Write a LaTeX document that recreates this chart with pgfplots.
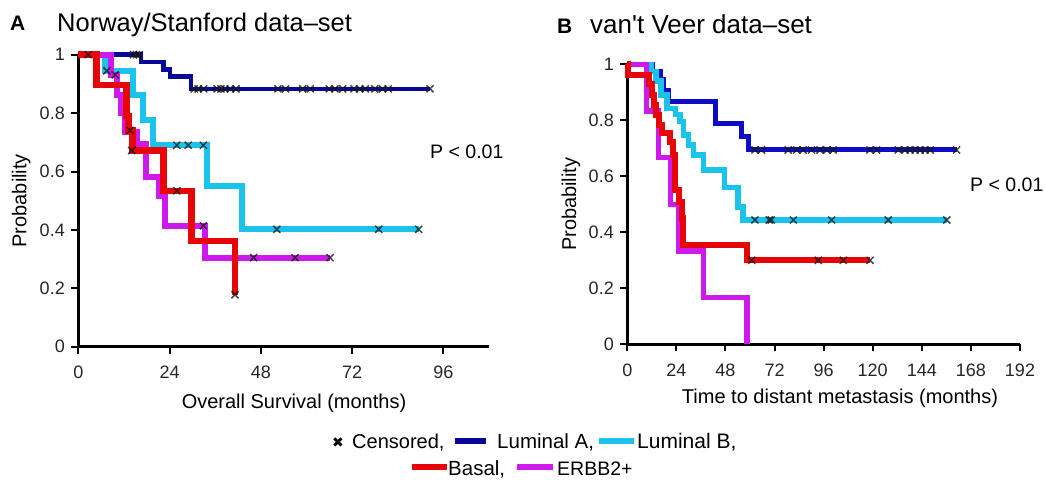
\documentclass[border=0pt]{standalone}
\usepackage{fontspec}
\setmainfont{Liberation Sans}
\newfontfamily\symfont{DejaVu Sans}
\usepackage{pgfplots}
\pgfplotsset{compat=1.18}

\definecolor{lumAa}{RGB}{8,8,150}
\definecolor{lumAb}{RGB}{12,12,200}
\definecolor{lumB}{RGB}{25,195,235}
\definecolor{basal}{RGB}{232,5,5}
\definecolor{erbb}{RGB}{205,25,235}
\newcommand{\fs}[1]{\fontsize{#1}{#1}\selectfont}

\pgfplotsset{
  km/.style={
    scale only axis, anchor=south west, clip=false,
    axis lines*=left,
    ymin=0, ymax=1, ytick={0,0.2,0.4,0.6,0.8,1},
    tick align=outside, major tick length=7pt,
    axis line style={line width=2.5pt, black},
    major tick style={line width=2pt, black},
    tick label style={font=\fs{18}, text=black!85},
    xticklabel style={yshift=-9pt},
    yticklabel style={xshift=-3pt},
    /pgf/number format/assume math mode=true,
  },
  cens/.style={only marks, mark=x, mark size=5pt, draw=black!90,
    mark options={line width=1.5pt, opacity=0.8}},
}

\begin{document}
\begin{tikzpicture}
\path[use as bounding box] (0pt,0pt) rectangle (1045pt,-485pt);

% ---- A: Norway/Stanford
\begin{axis}[km, at={(78.3pt,-346.7pt)}, width=410.7pt, height=292pt,
  xmin=0, xmax=108, xtick={0,24,48,72,96}]
\addplot[const plot, lumAa, line width=4.5pt] coordinates {
  (0,1) (16.5,0.975) (22.4,0.95) (24.1,0.925) (29.6,0.883) (92.5,0.883)};
\addplot[const plot, lumB, line width=6pt] coordinates {
  (0,1) (7,0.945) (14.5,0.862) (16.9,0.776) (19.7,0.69) (33.9,0.552) (43.1,0.402) (89.5,0.402)};
\addplot[const plot, erbb, line width=6pt] coordinates {
  (0,1) (8.5,0.931) (10.2,0.862) (11.2,0.80) (12.3,0.736) (15.4,0.695) (17.8,0.58)
  (21.1,0.517) (22.8,0.414) (33.3,0.305) (66.2,0.305)};
\addplot[const plot, basal, line width=6.5pt] coordinates {
  (0,1) (4.8,0.897) (12.7,0.79) (13.2,0.741) (14.2,0.672) (22.4,0.534) (29.8,0.362) (41.2,0.178)};
% censored
\addplot[cens] coordinates {
  (14.5,1) (15.3,1) (16,1)
  (30.5,0.883) (31.5,0.883) (33,0.883) (36.5,0.883) (37.5,0.883) (38.5,0.883) (40,0.883) (41.5,0.883)
  (52.5,0.883) (54.5,0.883) (59,0.883) (61,0.883) (66,0.883) (67.5,0.883) (69.5,0.883)
  (72.5,0.883) (74,0.883) (75.5,0.883) (78,0.883) (80,0.883) (81.5,0.883) (92.5,0.883)};
\addplot[cens] coordinates {
  (7.5,0.945) (25.9,0.69) (28.9,0.69) (32.9,0.69) (52.2,0.402) (79,0.402) (89.5,0.402)};
\addplot[cens] coordinates {
  (9.7,0.931) (32.9,0.414) (46.1,0.305) (57,0.305) (66.2,0.305)};
\addplot[cens] coordinates {
  (2.6,1) (13.6,0.741) (14.05,0.672) (25.9,0.534) (41.2,0.178)};
\end{axis}

% ---- B: van't Veer
\begin{axis}[km, at={(627.3pt,-344.3pt)}, width=392.7pt, height=280pt,
  xmin=0, xmax=192, xtick={0,24,48,72,96,120,144,168,192}]
\addplot[const plot, lumAb, line width=5pt] coordinates {
  (0,1) (12.3,0.974) (16,0.944) (17.6,0.908) (20,0.866) (42.9,0.789) (55.9,0.741) (59.2,0.694) (161,0.694)};
\addplot[const plot, lumB, line width=5.5pt] coordinates {
  (0,1) (11.6,0.975) (14,0.94) (16.5,0.89) (19.4,0.843) (23.5,0.82) (25.8,0.795) (27.5,0.748)
  (29.8,0.712) (32.3,0.676) (37.2,0.622) (47.6,0.56) (54,0.491) (56.5,0.444) (156.2,0.444)};
\addplot[const plot, erbb, line width=5.5pt] coordinates {
  (0,1) (9.5,0.833) (15.2,0.667) (21,0.5) (25,0.333) (37.2,0.167) (58.4,0)};
\addplot[const plot, basal, line width=6pt] coordinates {
  (0,1) (0.5,0.962) (10.5,0.93) (12,0.89) (13,0.855) (14,0.82) (15.5,0.785) (17,0.754)
  (20.9,0.724) (22.5,0.676) (23.3,0.551) (25.5,0.51) (26.5,0.45) (27.4,0.355) (58.4,0.30) (118.7,0.30)};
\addplot[cens] coordinates {
  (62.4,0.694) (65.6,0.694) (78.7,0.694) (82.8,0.694) (86,0.694) (90.1,0.694) (94.2,0.694)
  (97.5,0.694) (100.7,0.694) (118.6,0.694) (121.9,0.694) (132.5,0.694) (135.8,0.694)
  (138.3,0.694) (140.7,0.694) (143.2,0.694) (145.6,0.694) (148.1,0.694) (161,0.694)};
\addplot[cens] coordinates {
  (62.4,0.444) (69.4,0.444) (70.4,0.444) (81.2,0.444) (99.9,0.444) (127.6,0.444) (156.2,0.444)};
\addplot[cens] coordinates {
  (60.8,0.30) (93.4,0.30) (105.6,0.30) (118.7,0.30)};
\end{axis}

% ---- titles and labels
\node[anchor=base west, inner sep=0] at (10pt,-30.5pt) {\fs{21}\bfseries A};
\node[anchor=base west, inner sep=0] at (57pt,-31.7pt) {\fs{25.5}Norway/Stanford data–set};
\node[anchor=base west, inner sep=0] at (557pt,-33pt) {\fs{21}\bfseries B};
\node[anchor=base west, inner sep=0] at (590pt,-33.3pt) {\fs{26}van\textquotesingle t Veer data–set};

\node[anchor=base, inner sep=0, rotate=90] at (26.5pt,-200.7pt) {\fs{20}Probability};
\node[anchor=base, inner sep=0, rotate=90] at (576pt,-204.3pt) {\fs{20}Probability};
\node[anchor=base, inner sep=0] at (294pt,-408pt) {\fs{20}Overall Survival (months)};
\node[anchor=base, inner sep=0] at (840pt,-403.5pt) {\fs{20}Time to distant metastasis (months)};

\node[anchor=base west, inner sep=0] at (430pt,-158.3pt) {\fs{19.5}P < 0.01};
\node[anchor=base west, inner sep=0] at (970pt,-191.7pt) {\fs{19.5}P < 0.01};

% ---- legend
\node[anchor=base, inner sep=0] at (338pt,-447.5pt) {\symfont\fs{14}✖};
\node[anchor=base west, inner sep=0] at (352pt,-448.3pt) {\fs{20}Censored,};
\fill[lumAa] (455pt,-438pt) rectangle (486pt,-444pt);
\node[anchor=base west, inner sep=0] at (497pt,-448.3pt) {\fs{20.5}Luminal A,};
\fill[lumB] (599pt,-438pt) rectangle (634pt,-444pt);
\node[anchor=base west, inner sep=0] at (637pt,-448.3pt) {\fs{21}Luminal B,};
\fill[basal] (412pt,-464pt) rectangle (447pt,-470pt);
\node[anchor=base west, inner sep=0] at (448pt,-475pt) {\fs{20.5}Basal,};
\fill[erbb] (517pt,-464pt) rectangle (553pt,-470pt);
\node[anchor=base west, inner sep=0] at (557pt,-475pt) {\fs{19.5}ERBB2+};
\end{tikzpicture}
\end{document}
